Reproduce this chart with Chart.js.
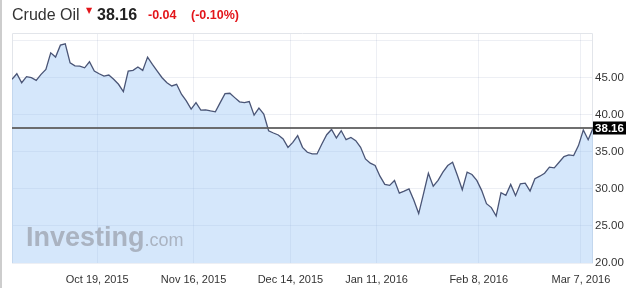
<!DOCTYPE html>
<html>
<head>
<meta charset="utf-8">
<script src="https://cdn.jsdelivr.net/npm/chart.js@4.4.1/dist/chart.umd.min.js"></script>
<style>
  html, body { margin: 0; padding: 0; background: #fff; }
  #wrap { position: relative; width: 632px; height: 288px; overflow: hidden; font-family: "Liberation Sans", Arial, sans-serif; }
  #c { position: absolute; left: 0; top: 0; }
  .abs { position: absolute; white-space: nowrap; line-height: 1; }
  #edge { position: absolute; left: 0; top: 0; width: 2px; height: 288px; background: #cdcdcd; }
</style>
</head>
<body>
<div id="wrap">
  <canvas id="c" width="632" height="288"></canvas>
  <div id="edge"></div>
  <div class="abs" id="tName" style="left:12px; top:6.5px; font-size:16px; color:#333;"></div>
  <div class="abs" id="tArrow" style="left:86px; top:7px; font-size:8px; color:#e3151a; font-family:'DejaVu Sans';">▼</div>
  <div class="abs" id="tPrice" style="left:97px; top:6.5px; font-size:16px; font-weight:bold; color:#222;"></div>
  <div class="abs" id="tChg" style="left:148px; top:9.4px; font-size:12.5px; font-weight:bold; color:#e3151a;"></div>
  <div class="abs" id="tPct" style="left:191px; top:9.4px; font-size:12.5px; font-weight:bold; color:#e3151a;"></div>
  <div class="abs" id="wm" style="left:26px; top:224px; color:#aab3c1;"><span style="font-size:27px; font-weight:bold;">Investing</span><span style="font-size:18px;">.com</span></div>
</div>
<script>
// ---- data ----
const instrument = "Crude Oil";
const lastPrice = 38.16;
const changeText = "-0.04";
const changePct = "(-0.10%)";

// daily closes, in order (trading days)
const closes = [
  44.76, 45.51, 44.30, 45.11, 44.97, 44.62, 45.43, 46.10, 48.32, 47.75,
  49.36, 49.53, 46.98, 46.58, 46.54, 46.31, 47.12, 45.87, 45.51, 45.20,
  45.34, 44.76, 44.09, 43.10, 45.87, 45.96, 46.41, 45.96, 47.75, 46.77,
  45.87, 44.97, 44.30, 43.86, 44.09, 42.75, 41.85, 40.74, 41.62, 40.60,
  40.64, 40.50, 40.38, 41.62, 42.83, 42.88, 42.29, 41.72, 41.62, 41.76,
  39.93, 40.87, 40.07, 37.83, 37.52, 37.25, 36.71, 35.59, 36.26, 37.16,
  35.59, 34.92, 34.70, 34.70, 36.05, 37.29, 38.00, 36.85, 37.83, 36.62,
  36.93, 36.49, 35.59, 34.03, 33.45, 33.14, 31.70, 30.59, 30.46, 31.13,
  29.42, 29.69, 29.99, 28.45, 26.66, 29.34, 32.10, 30.36, 31.13, 32.24,
  33.14, 33.58, 31.80, 29.88, 32.24, 31.93, 31.13, 29.79, 28.00, 27.47,
  26.34, 29.48, 29.12, 30.59, 29.08, 30.68, 30.76, 29.69, 31.35, 31.70,
  32.10, 32.91, 32.83, 33.58, 34.34, 34.57, 34.48, 35.82, 37.92, 36.62,
  38.16
];

// x-axis date labels and the trading-day index at which each falls
const dateLabels = ["Oct 19, 2015", "Nov 16, 2015", "Dec 14, 2015", "Jan 11, 2016", "Feb 8, 2016", "Mar 7, 2016"];
const dateIndex = [17.6, 37.5, 57.5, 75.3, 96.4, 117.5];

// y-axis ticks
const yTicks = [20, 25, 30, 35, 40, 45, 50];
const yMin = 20, yMax = 51;

// ---- header text ----
document.getElementById('tName').textContent = instrument;
document.getElementById('tPrice').textContent = lastPrice.toFixed(2);
document.getElementById('tChg').textContent = changeText;
document.getElementById('tPct').textContent = changePct;

const points = closes.map((v, i) => ({ x: i, y: v }));

const framePlugin = {
  id: 'frame',
  beforeDatasetsDraw(chart) {
    const { ctx, chartArea: a } = chart;
    ctx.save();
    ctx.strokeStyle = '#e2e5ea';
    ctx.lineWidth = 1;
    ctx.beginPath();
    ctx.moveTo(a.left + 0.5, a.bottom);
    ctx.lineTo(a.left + 0.5, a.top + 0.5);
    ctx.lineTo(a.right - 0.5, a.top + 0.5);
    ctx.lineTo(a.right - 0.5, a.bottom);
    ctx.stroke();
    ctx.restore();
  },
  afterDatasetsDraw(chart) {
    const { ctx, chartArea: a } = chart;
    const y = Math.round(chart.scales.y.getPixelForValue(lastPrice));
    ctx.save();
    ctx.strokeStyle = 'rgba(95,95,95,0.9)';
    ctx.lineWidth = 2;
    ctx.beginPath();
    ctx.moveTo(a.left, y);
    ctx.lineTo(a.right, y);
    ctx.stroke();
    ctx.fillStyle = '#000';
    ctx.fillRect(a.right, y - 6.5, 33, 13);
    ctx.fillStyle = '#fff';
    ctx.font = 'bold 11.5px "Liberation Sans", Arial, sans-serif';
    ctx.textAlign = 'center';
    ctx.textBaseline = 'middle';
    ctx.fillText(lastPrice.toFixed(2), a.right + 16.5, y + 0.5);
    ctx.restore();
  }
};

new Chart(document.getElementById('c'), {
  type: 'line',
  data: {
    datasets: [{
      data: points,
      borderColor: '#4a5576',
      borderWidth: 1.3,
      backgroundColor: 'rgba(150,195,245,0.4)',
      fill: 'start',
      pointRadius: 0,
      tension: 0
    }]
  },
  options: {
    responsive: false,
    animation: false,
    devicePixelRatio: 1,
    layout: { padding: { left: 12, top: 33, right: 0, bottom: 0 } },
    plugins: { legend: { display: false }, tooltip: { enabled: false } },
    scales: {
      x: {
        type: 'linear',
        min: 0,
        max: closes.length - 1,
        grid: { color: 'rgba(30,50,110,0.08)', drawTicks: false },
        border: { display: false },
        afterBuildTicks: s => { s.ticks = dateIndex.map(v => ({ value: v })); },
        afterFit: s => { s.height = 25; },
        ticks: {
          autoSkip: false,
          maxRotation: 0,
          padding: 10,
          color: '#333',
          font: { family: '"Liberation Sans", Arial, sans-serif', size: 11 },
          callback: (v, i) => dateLabels[i]
        }
      },
      y: {
        position: 'right',
        min: yMin,
        max: yMax,
        grid: { color: 'rgba(30,50,110,0.08)', drawTicks: false },
        border: { display: false },
        afterBuildTicks: s => { s.ticks = yTicks.map(v => ({ value: v })); },
        afterFit: s => { s.width = 39; },
        ticks: {
          padding: 2,
          color: '#333',
          font: { family: '"Liberation Sans", Arial, sans-serif', size: 11.5 },
          callback: v => (v >= 50 ? '' : Number(v).toFixed(2))
        }
      }
    }
  },
  plugins: [framePlugin]
});
</script>
</body>
</html>
